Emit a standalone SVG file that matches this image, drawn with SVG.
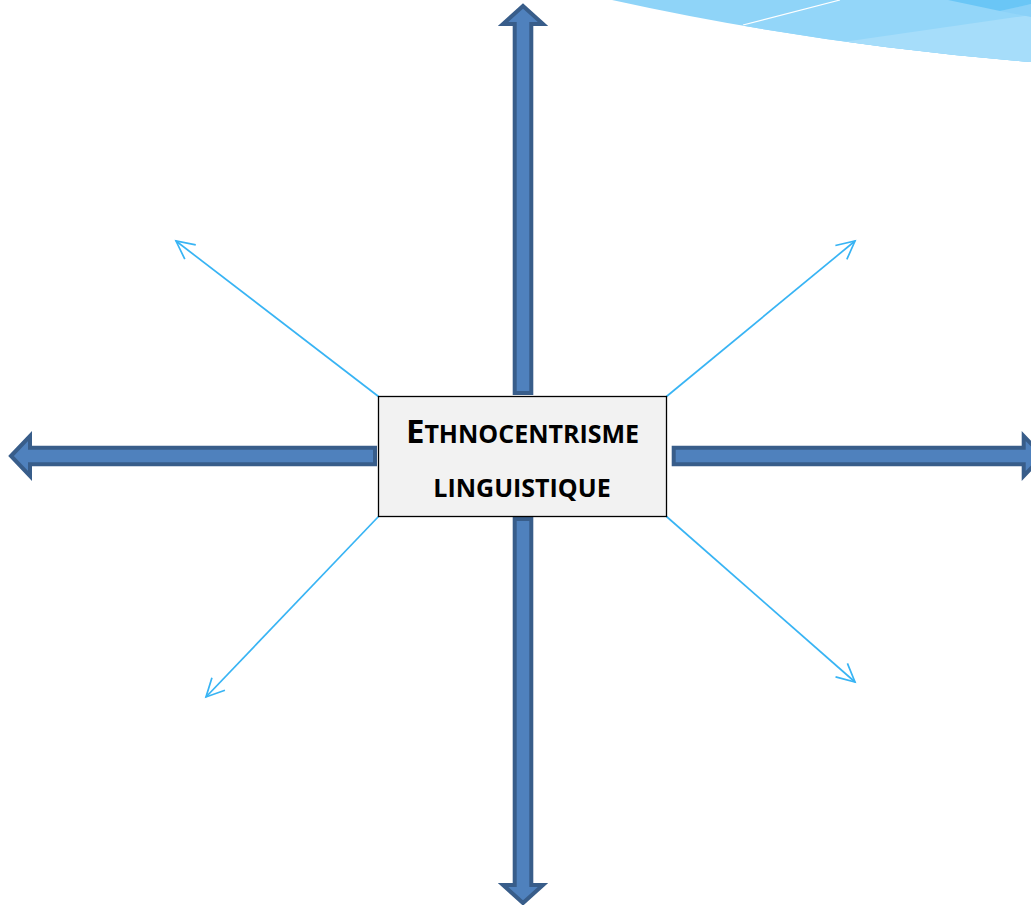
<svg xmlns="http://www.w3.org/2000/svg" width="1031" height="905" viewBox="0 0 1031 905">
  <style>
    .block { fill: #4F81BD; stroke: #385D8A; stroke-width: 4; stroke-linejoin: miter; }
    .thin { fill: none; stroke: #38B4F4; stroke-width: 1.7; marker-end: url(#openHead); }
    .label { font-family: "Open Sans", "Liberation Sans", sans-serif; font-weight: 700; fill: #000; }
  </style>
  <defs>
    <marker id="openHead" markerUnits="userSpaceOnUse" markerWidth="24" markerHeight="24" refX="20" refY="12" orient="auto" overflow="visible">
      <path d="M2,3 L20,12 L2,21" fill="none" stroke="#38B4F4" stroke-width="1.7"/>
    </marker>
    <clipPath id="swooshClip">
      <path d="M612,0 Q815,44.7 1031,62 L1031,0 Z"/>
    </clipPath>
  </defs>

  <rect width="1031" height="905" fill="#FFFFFF"/>

  <!-- decorative swoosh, top right -->
  <g id="swoosh" clip-path="url(#swooshClip)">
    <rect x="600" y="0" width="431" height="70" fill="#8FD4F8"/>
    <polygon points="743,25 840,0 1031,0 1031,70 743,70" fill="#93D6F9"/>
    <polygon points="843,42 1031,15 1031,70 800,70" fill="#A6DDFA"/>
    <polygon points="1000,11 1031,17 1031,4" fill="#8AD1F8"/>
    <polygon points="948,0 1000,11 1031,4 1031,0" fill="#6AC6F6"/>
    <line x1="743" y1="25" x2="840" y2="0" stroke="#FFFFFF" stroke-width="1.2"/>
  </g>

  <!-- connectors -->
  <g id="connectors">
    <path id="arrow-up" class="block" d="M523,6 L543,24 L531.3,24 L531.3,393 L514.7,393 L514.7,24 L503,24 Z"/>
    <path id="arrow-down" class="block" d="M523,903 L543,885 L531.3,885 L531.3,519 L514.7,519 L514.7,885 L503,885 Z"/>
    <path id="arrow-left" class="block" d="M11,456 L30,436 L30,447.7 L375,447.7 L375,464.3 L30,464.3 L30,476 Z"/>
    <path id="arrow-right" class="block" d="M1043,456 L1023.7,436 L1023.7,447.7 L673.7,447.7 L673.7,464.3 L1023.7,464.3 L1023.7,476 Z"/>
    <line class="thin" x1="378.5" y1="396.5" x2="176" y2="241"/>
    <line class="thin" x1="666.5" y1="396.5" x2="855" y2="241"/>
    <line class="thin" x1="378.5" y1="516.5" x2="206" y2="697"/>
    <line class="thin" x1="666.5" y1="516.5" x2="855" y2="682"/>
  </g>

  <!-- central node -->
  <g id="node-ethnocentrisme">
    <rect x="378.5" y="396.5" width="288" height="120" fill="#F2F2F2" stroke="#000000" stroke-width="1.3"/>
    <text class="label" x="522.5" y="443" text-anchor="middle"><tspan font-size="33">E</tspan><tspan font-size="25">THNOCENTRISME</tspan></text>
    <text class="label" x="522" y="497" text-anchor="middle" font-size="25">LINGUISTIQUE</text>
  </g>
</svg>
